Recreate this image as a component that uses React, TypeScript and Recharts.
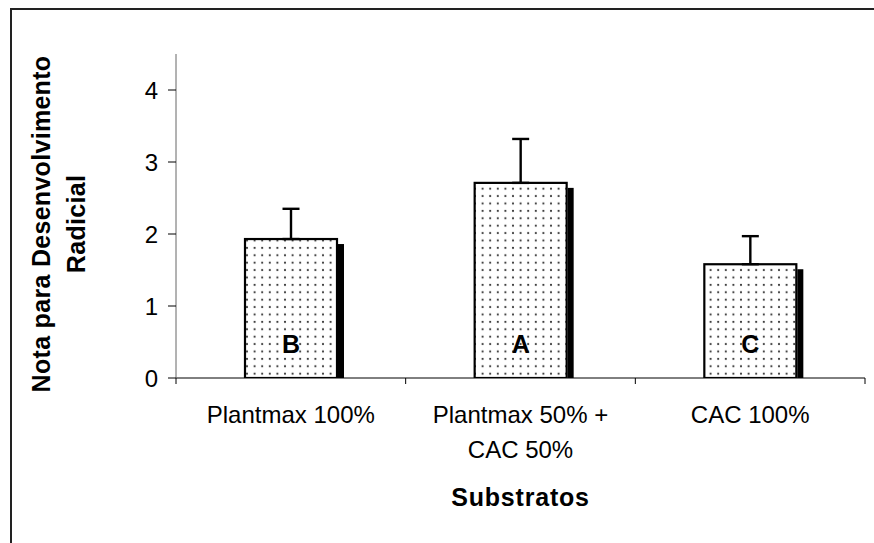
import React from 'react';
import { BarChart, Bar, XAxis, YAxis, ErrorBar, LabelList, Label } from 'recharts';

const categories = ['Plantmax 100%', 'Plantmax 50% +\nCAC 50%', 'CAC 100%'];
const means = [1.93, 2.71, 1.58];
const errorsUp = [0.42, 0.61, 0.39];
const letters = ['B', 'A', 'C'];
const yTicks = [0, 1, 2, 3, 4];

const data = categories.map((name, i) => ({
  name,
  nota: means[i],
  err: [0, errorsUp[i]],
  letra: letters[i],
}));

const W = 874;
const H = 543;
const PLOT_LEFT = 176;
const PLOT_RIGHT = 865;
const PLOT_TOP = 54;
const PLOT_BOTTOM = 378;
const Y_AXIS_W = 60;
const X_AXIS_H = 40;
const BAND = (PLOT_RIGHT - PLOT_LEFT) / categories.length;
const FONT = 'Arial, "Liberation Sans", sans-serif';

// bar with the black drop shadow on its right side
const ShadowBar = (props: any) => {
  const { x, y, width, height } = props;
  if (height <= 0) return null;
  return (
    <g>
      <rect x={x + width + 1} y={y + 5} width={6} height={height - 5} fill="#000" />
      <rect x={x} y={y} width={width} height={height} fill="url(#dots)" stroke="#000" strokeWidth={2.2} />
    </g>
  );
};

const CategoryTick = (props: any) => {
  const { x, y, payload, index } = props;
  const lines = String(payload.value).split('\n');
  return (
    <g>
      {index === 0 && <line x1={x - BAND / 2} y1={y} x2={x - BAND / 2} y2={y + 6} stroke="#000" />}
      <line x1={x + BAND / 2} y1={y} x2={x + BAND / 2} y2={y + 6} stroke="#000" />
      {lines.map((t, i) => (
        <text key={i} x={x} y={y + 45 + i * 35} textAnchor="middle" fontSize={24} fontFamily={FONT} fill="#000">
          {t}
        </text>
      ))}
    </g>
  );
};

const YTitle = (props: any) => {
  const { viewBox } = props;
  const cy = viewBox.y + viewBox.height / 2 + 8;
  const x1 = viewBox.x - 66;
  const x2 = viewBox.x - 31;
  const style = { fontSize: 25, fontWeight: 700, fontFamily: FONT, letterSpacing: 0.3 };
  return (
    <g>
      <text x={x1} y={cy} transform={`rotate(-90, ${x1}, ${cy})`} textAnchor="middle" fill="#000" style={style}>
        Nota para Desenvolvimento
      </text>
      <text x={x2} y={cy} transform={`rotate(-90, ${x2}, ${cy})`} textAnchor="middle" fill="#000" style={style}>
        Radicial
      </text>
    </g>
  );
};

const XTitle = (props: any) => {
  const { viewBox } = props;
  return (
    <text
      x={viewBox.x + viewBox.width / 2}
      y={viewBox.y + 128}
      textAnchor="middle"
      fill="#000"
      style={{ fontSize: 25, fontWeight: 700, fontFamily: FONT, letterSpacing: 0.8 }}
    >
      Substratos
    </text>
  );
};

const LetterLabel = (props: any) => {
  const { x, y, width, height, value } = props;
  return (
    <text
      x={x + width / 2}
      y={y + height - 34}
      textAnchor="middle"
      dominantBaseline="central"
      fill="#000"
      style={{ fontSize: 25, fontWeight: 700, fontFamily: FONT }}
    >
      {value}
    </text>
  );
};

export default function App() {
  return (
    <div style={{ position: 'absolute', left: 0, top: 0, width: W, height: H, overflow: 'hidden', background: '#fff' }}>
      <div
        style={{
          position: 'absolute',
          left: 10,
          top: 8,
          width: W,
          height: H,
          borderTop: '2px solid #222',
          borderLeft: '2px solid #222',
        }}
      />
      <svg width={0} height={0} style={{ position: 'absolute' }}>
        <defs>
          <pattern id="dots" patternUnits="userSpaceOnUse" width={7.6} height={7.4}>
            <rect width={7.6} height={7.4} fill="#fff" />
            <circle cx={3.8} cy={3.7} r={1.05} fill="#333" />
          </pattern>
        </defs>
      </svg>
      <div style={{ position: 'absolute', left: 0, top: 0 }}>
        <BarChart
          width={W}
          height={H}
          data={data}
          margin={{
            top: PLOT_TOP,
            right: W - PLOT_RIGHT,
            left: PLOT_LEFT - Y_AXIS_W,
            bottom: H - PLOT_BOTTOM - X_AXIS_H,
          }}
        >
          <XAxis
            dataKey="name"
            height={X_AXIS_H}
            axisLine={{ stroke: '#000', strokeWidth: 1 }}
            tickLine={false}
            tickSize={0}
            tickMargin={0}
            interval={0}
            tick={<CategoryTick />}
          >
            <Label content={<XTitle />} />
          </XAxis>
          <YAxis
            width={Y_AXIS_W}
            domain={[0, 4.5]}
            ticks={yTicks}
            allowDataOverflow
            axisLine={{ stroke: '#666', strokeWidth: 1 }}
            tickLine={{ stroke: '#000' }}
            tickSize={8}
            tickMargin={10}
            tick={{ fontSize: 24, fill: '#000', fontFamily: FONT }}
          >
            <Label content={<YTitle />} />
          </YAxis>
          <Bar dataKey="nota" barSize={92} shape={<ShadowBar />} isAnimationActive={false}>
            <ErrorBar dataKey="err" width={8.5} stroke="#000" strokeWidth={2.4} direction="y" isAnimationActive={false} />
            <LabelList dataKey="letra" content={<LetterLabel />} />
          </Bar>
        </BarChart>
      </div>
    </div>
  );
}
